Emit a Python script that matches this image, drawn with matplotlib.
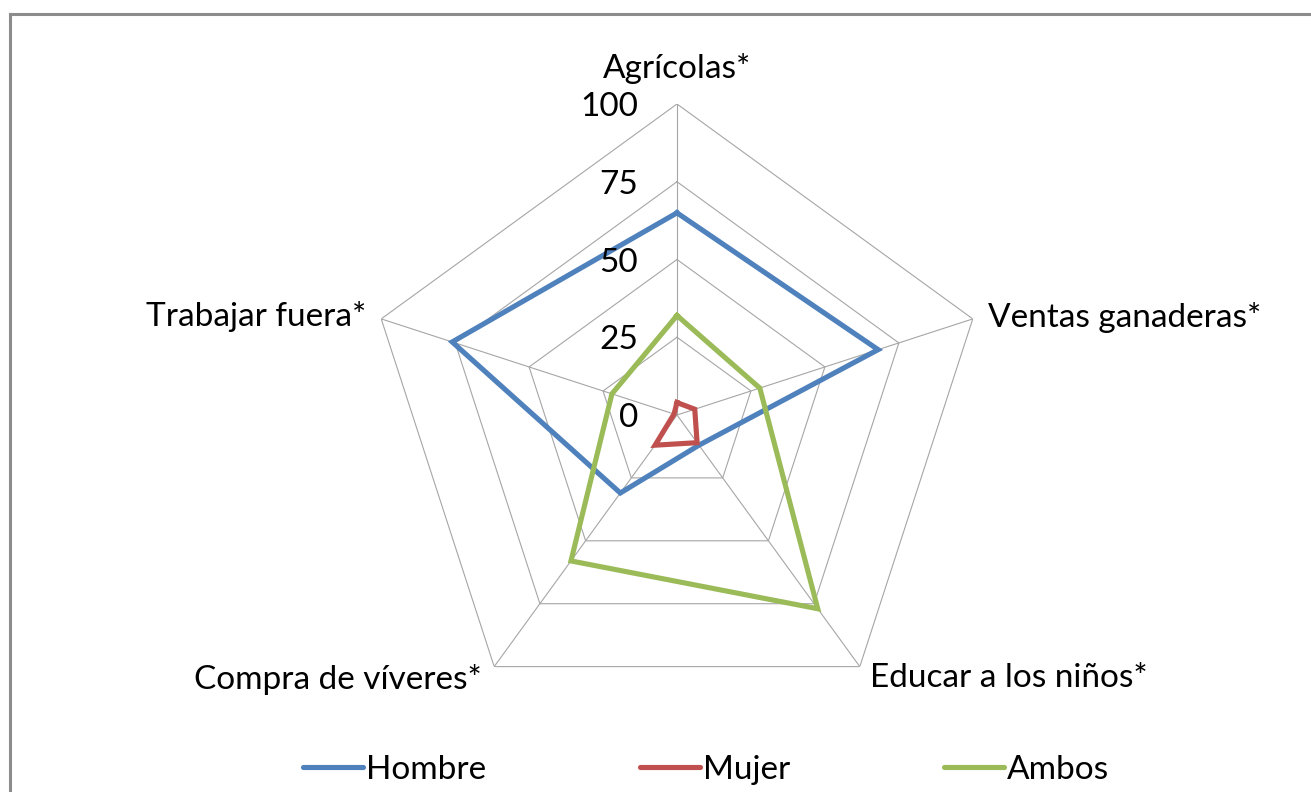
import numpy as np
import matplotlib
matplotlib.use("Agg")
import matplotlib.pyplot as plt
from matplotlib.lines import Line2D


# ============================================================
# Datos del gráfico radial
# ============================================================
CATEGORIES = [
    "Agrícolas*",
    "Ventas ganaderas*",
    "Educar a los niños*",
    "Compra de víveres*",
    "Trabajar fuera*",
]
HOMBRE = [65, 68, 12, 31, 76]
MUJER = [4, 6, 11, 12, 1]
AMBOS = [32, 28, 77, 58, 22]

SERIES_NAMES = ["Hombre", "Mujer", "Ambos"]
RING_LEVELS = [0, 25, 50, 75, 100]

# Estilo
COLORS = {"Hombre": "#4F81BD", "Mujer": "#C0504D", "Ambos": "#9BBB59"}
GRID_COLOR = "#A6A6A6"
FRAME_COLOR = "#8C8C8C"
FONT_FAMILY = ["Lato", "DejaVu Sans"]
FONT_SIZE = 24
LINE_WIDTH = 3.7

W_PX, H_PX = 1311, 792
CENTER_PX = (677, 415)   # centro del radar (x, y desde arriba)
RADIUS_PX = 311

# desplazamientos de las etiquetas de categoría (puntos), alineación
LABEL_OFFSETS = [
    ((0, 19), "center"),
    ((11, -6), "left"),
    ((7, -15), "left"),
    ((-9, -16), "right"),
    ((-11, -5), "right"),
]


def p2pt(px):
    return px * 72.0 / 100.0


def main():
    plt.rcParams["font.family"] = FONT_FAMILY

    fig = plt.figure(figsize=(W_PX / 100, H_PX / 100), dpi=100)
    cx, cy = CENTER_PX
    left = (cx - RADIUS_PX) / W_PX
    bottom = (H_PX - cy - RADIUS_PX) / H_PX
    ax = fig.add_axes([left, bottom, 2 * RADIUS_PX / W_PX, 2 * RADIUS_PX / H_PX],
                      projection="polar")
    ax.set_theta_offset(np.pi / 2)
    ax.set_theta_direction(-1)
    ax.set_ylim(0, 100)
    ax.grid(False)
    ax.set_xticks([])
    ax.set_yticks([])
    ax.spines["polar"].set_visible(False)
    ax.patch.set_visible(False)

    n = len(CATEGORIES)
    theta = np.arange(n) * 2 * np.pi / n
    theta_closed = np.append(theta, theta[0])

    # rejilla pentagonal
    for lvl in RING_LEVELS[1:]:
        ax.plot(theta_closed, [lvl] * (n + 1), color=GRID_COLOR, lw=0.8, zorder=1)
    for t in theta:
        ax.plot([t, t], [0, 100], color=GRID_COLOR, lw=0.8, zorder=1)

    # series
    for name, vals in zip(SERIES_NAMES, [HOMBRE, MUJER, AMBOS]):
        ax.plot(theta_closed, vals + vals[:1], color=COLORS[name], lw=LINE_WIDTH,
                solid_joinstyle="miter", zorder=3, label=name)

    # etiquetas de escala
    for lvl in RING_LEVELS:
        ax.annotate(str(lvl), xy=(0, lvl), xytext=(p2pt(-39), p2pt(-12)),
                    textcoords="offset points", ha="right", va="baseline",
                    fontsize=FONT_SIZE, color="black", zorder=4)

    # etiquetas de categoría
    for t, lab, (off, ha) in zip(theta, CATEGORIES, LABEL_OFFSETS):
        ax.annotate(lab, xy=(t, 100), xytext=off, textcoords="offset points",
                    ha=ha, va="baseline", fontsize=FONT_SIZE, color="black",
                    annotation_clip=False)

    # leyenda
    handles = [Line2D([], [], color=COLORS[s], lw=LINE_WIDTH, solid_capstyle="round")
               for s in SERIES_NAMES]
    fig.legend(handles, SERIES_NAMES, loc="center", ncol=3, frameon=False,
               bbox_to_anchor=(706 / W_PX, 22 / H_PX), fontsize=FONT_SIZE,
               handlelength=1.8, handletextpad=0.1, columnspacing=4.6,
               borderpad=0)

    # marco del área del gráfico
    top = 1 - 13.5 / H_PX
    lx = 9.5 / W_PX
    fig.add_artist(Line2D([lx, 1], [top, top], color=FRAME_COLOR, lw=2.2,
                          transform=fig.transFigure))
    fig.add_artist(Line2D([lx, lx], [0, top], color=FRAME_COLOR, lw=2.2,
                          transform=fig.transFigure))

    fig.savefig("out.png", dpi=100, facecolor="white")
    plt.close(fig)


if __name__ == "__main__":
    main()
